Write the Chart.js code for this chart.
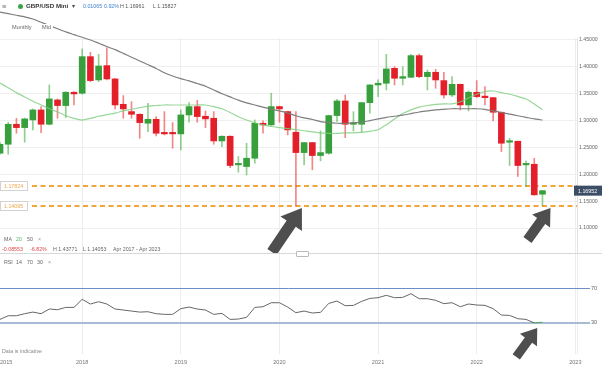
<!DOCTYPE html>
<html>
<head>
<meta charset="utf-8">
<script src="https://cdn.jsdelivr.net/npm/chart.js@4/dist/chart.umd.min.js"></script>
<style>
body { margin: 0; background: #fff; }
#wrap { position: relative; width: 602px; height: 366px; overflow: hidden; font-family: "Liberation Sans", Arial, sans-serif; }
canvas { position: absolute; left: 0; }
.t { position: absolute; white-space: nowrap; font-size: 5.3px; line-height: 1; color: #666; }
</style>
</head>
<body>
<div id="wrap">
  <canvas id="price" width="602" height="254" style="top:0"></canvas>
  <canvas id="rsi" width="602" height="112" style="top:254px"></canvas>

  <span class="t" style="left:2px;top:2.5px;font-size:7.5px;color:#777">≡</span>
  <span style="position:absolute;left:18px;top:3.5px;width:5px;height:5px;border-radius:50%;background:#3aa64a"></span>
  <span class="t" style="left:26px;top:3px;font-size:6.2px;font-weight:bold;color:#333">GBP/USD Mini</span>
  <span class="t" style="left:72px;top:3px;font-size:6px;color:#444">▾</span>
  <span class="t" style="left:83px;top:3.5px;color:#3d80d0">0.01065</span>
  <span class="t" style="left:104px;top:3.5px;color:#3d80d0">0.92%</span>
  <span class="t" style="left:120px;top:3.5px;color:#555">H 1.16961</span>
  <span class="t" style="left:153px;top:3.5px;color:#555">L 1.15827</span>

  <span class="t" style="left:10px;top:24px;font-size:5.6px;background:#fff;padding:1px 2px">Monthly</span>
  <span class="t" style="left:40px;top:24px;font-size:5.6px;background:#fff;padding:1px 2px">Mid</span>

  <span class="t" style="left:4px;top:236.5px">MA</span>
  <span class="t" style="left:16px;top:236.5px;color:#5ab55a">20</span>
  <span class="t" style="left:27px;top:236.5px">50</span>
  <span class="t" style="left:38px;top:236.5px;color:#999">×</span>

  <span class="t" style="left:2px;top:246.5px;color:#e04848">-0.08553</span>
  <span class="t" style="left:30px;top:246.5px;color:#e04848">-6.82%</span>
  <span class="t" style="left:53px;top:246.5px">H 1.43771</span>
  <span class="t" style="left:83px;top:246.5px">L 1.14053</span>
  <span class="t" style="left:113px;top:246.5px">Apr 2017 - Apr 2023</span>

  <div style="position:absolute;left:0;top:253px;width:602px;height:1px;background:#d8d8d8"></div>
  <div style="position:absolute;left:296px;top:251px;width:11px;height:4px;border:1px solid #bbb;border-radius:1px;background:#fff"></div>

  <span class="t" style="left:4px;top:259.5px">RSI</span>
  <span class="t" style="left:16px;top:259.5px">14</span>
  <span class="t" style="left:27px;top:259.5px">70</span>
  <span class="t" style="left:37px;top:259.5px">30</span>
  <span class="t" style="left:48px;top:259.5px;color:#999">×</span>

  <span class="t" style="left:2px;top:348.5px;color:#888">Data is indicative</span>
</div>

<script>
// monthly candles, first one is Mar 2017 (month index counted from Jan 2017)
var firstMonth = 2;
var opens = [1.2392, 1.2559, 1.2931, 1.2869, 1.3012, 1.3198, 1.2931, 1.3384, 1.3279, 1.3527,
  1.3508, 1.4190, 1.3756, 1.4023, 1.3775, 1.3303, 1.3167, 1.3117, 1.2950, 1.3024,
  1.2770, 1.2770, 1.2752, 1.3105, 1.3260, 1.3080, 1.3043, 1.2621, 1.2708, 1.2175,
  1.2144, 1.2299, 1.2950, 1.2919, 1.3260, 1.3167, 1.2783, 1.2404, 1.2590, 1.2349,
  1.2392, 1.3093, 1.3365, 1.2931, 1.2931, 1.3334, 1.3663, 1.3694, 1.3973, 1.3787,
  1.3806, 1.4209, 1.3818, 1.3899, 1.3744, 1.3477, 1.3675, 1.3291, 1.3527, 1.3446,
  1.3427, 1.3155, 1.2597, 1.2615, 1.2175, 1.2187, 1.1629];
var highs = [1.2597, 1.2969, 1.3043, 1.3045, 1.3217, 1.3260, 1.3663, 1.3403, 1.3539, 1.3539,
  1.4333, 1.4271, 1.4233, 1.4357, 1.3785, 1.3465, 1.3353, 1.3125, 1.3322, 1.3074,
  1.3167, 1.2962, 1.3198, 1.3334, 1.3378, 1.3179, 1.3167, 1.2715, 1.2715, 1.2330,
  1.2578, 1.3012, 1.2993, 1.3508, 1.3270, 1.3175, 1.3167, 1.2595, 1.2595, 1.2807,
  1.3100, 1.3396, 1.3477, 1.3167, 1.3340, 1.3670, 1.3756, 1.4233, 1.4004, 1.4004,
  1.4233, 1.4240, 1.3942, 1.3954, 1.3899, 1.3818, 1.3680, 1.3551, 1.3744, 1.3632,
  1.3430, 1.3160, 1.2671, 1.2617, 1.2249, 1.2299, 1.16961];
var lows = [1.2373, 1.2373, 1.2764, 1.2597, 1.2826, 1.2776, 1.2919, 1.3043, 1.3055, 1.3291,
  1.3490, 1.3725, 1.3725, 1.3756, 1.3217, 1.3043, 1.3043, 1.2671, 1.2795, 1.2714,
  1.2733, 1.2485, 1.2454, 1.2969, 1.2969, 1.2869, 1.2559, 1.2516, 1.2125, 1.2039,
  1.1989, 1.2206, 1.2764, 1.2910, 1.2969, 1.2733, 1.14095, 1.2175, 1.2082, 1.2249,
  1.2373, 1.2981, 1.2683, 1.2807, 1.2783, 1.3136, 1.3446, 1.3570, 1.3663, 1.3663,
  1.3800, 1.3799, 1.3570, 1.3601, 1.3415, 1.3446, 1.3198, 1.3179, 1.3427, 1.3291,
  1.2993, 1.2423, 1.2163, 1.1958, 1.1772, 1.1610, 1.1410];
var closes = [1.2559, 1.2931, 1.2869, 1.3031, 1.3198, 1.2931, 1.3403, 1.3279, 1.3527, 1.3496,
  1.4190, 1.3744, 1.4016, 1.3775, 1.3291, 1.3217, 1.3117, 1.2962, 1.3024, 1.2764,
  1.2752, 1.2752, 1.3105, 1.3260, 1.3074, 1.3031, 1.2621, 1.2708, 1.2163, 1.2181,
  1.2299, 1.2950, 1.2919, 1.3260, 1.3217, 1.2826, 1.2404, 1.2590, 1.2349, 1.2404,
  1.3093, 1.3365, 1.2931, 1.2956, 1.3334, 1.3663, 1.3694, 1.3961, 1.3787, 1.3818,
  1.4209, 1.3818, 1.3899, 1.3756, 1.3477, 1.3675, 1.3291, 1.3527, 1.3446, 1.3427,
  1.3155, 1.2578, 1.2615, 1.2163, 1.2194, 1.1617, 1.16952];

var ma20 = [1.370, 1.361, 1.352, 1.344, 1.336, 1.329, 1.322, 1.316, 1.309, 1.304,
  1.301, 1.304, 1.308, 1.311, 1.314, 1.318, 1.321, 1.324, 1.327, 1.328,
  1.329, 1.329, 1.329, 1.329, 1.329, 1.329, 1.326, 1.322, 1.315, 1.307,
  1.301, 1.296, 1.292, 1.289, 1.287, 1.285, 1.283, 1.281, 1.279, 1.277,
  1.276, 1.276, 1.277, 1.277, 1.278, 1.280, 1.283, 1.292, 1.303, 1.313,
  1.320, 1.325, 1.328, 1.330, 1.331, 1.331, 1.335, 1.342, 1.349, 1.354,
  1.355, 1.352, 1.349, 1.345, 1.340, 1.331, 1.320];
var ma50 = [1.502, 1.499, 1.496, 1.493, 1.489, 1.483, 1.477, 1.471, 1.465, 1.460,
  1.455, 1.450, 1.444, 1.438, 1.432, 1.425, 1.418, 1.411, 1.404, 1.397,
  1.389, 1.383, 1.378, 1.374, 1.369, 1.364, 1.357, 1.350, 1.344, 1.338,
  1.333, 1.329, 1.325, 1.321, 1.318, 1.314, 1.309, 1.305, 1.302, 1.298,
  1.296, 1.295, 1.295, 1.296, 1.297, 1.300, 1.303, 1.306, 1.308, 1.310,
  1.313, 1.316, 1.318, 1.320, 1.321, 1.322, 1.322, 1.322, 1.322, 1.321,
  1.318, 1.315, 1.312, 1.309, 1.306, 1.303, 1.301];
var rsi = [33.9, 38.2, 38.2, 40.6, 42.5, 40.6, 46.1, 45.3, 48.0, 48.0,
  57.5, 52.0, 54.7, 52.0, 46.1, 44.9, 43.7, 42.5, 42.9, 40.6,
  39.8, 39.8, 46.5, 48.4, 46.1, 44.9, 39.8, 41.0, 33.9, 34.3,
  36.3, 48.0, 48.8, 53.5, 53.5, 48.4, 41.8, 43.7, 41.4, 42.2,
  52.7, 55.5, 50.0, 50.4, 55.1, 58.6, 59.4, 62.2, 59.4, 59.8,
  64.1, 58.2, 58.2, 56.3, 52.4, 53.5, 48.8, 52.0, 50.8, 50.4,
  46.5, 39.0, 38.6, 34.7, 33.9, 29.8, 30.6];

var levels = [1.17824, 1.14095];
var priceTicks = [1.10, 1.15, 1.20, 1.25, 1.30, 1.35, 1.40, 1.45];
var rsiLevels = [30, 70];
var xMin = 2.0, xMax = 72.2;
var yearTicks = [xMin, 12, 24, 36, 48, 60, 72];
var yearLabels = ['2015', '2018', '2019', '2020', '2021', '2022', '2023'];

var family = '"Liberation Sans", Arial, sans-serif';
Chart.defaults.font.family = family;

var months = opens.map(function (o, i) { return firstMonth + i; });
var up = opens.map(function (o, i) { return closes[i] >= o; });
function pts(arr) { return arr.map(function (v, i) { return { x: months[i], y: v }; }); }

function xScale(showLabels) {
  // the labelled axis gets one blank tick at the right edge so that 'inner'
  // alignment only pushes the first label ("2015") to the left
  var ticks = showLabels ? yearTicks.concat([xMax]) : yearTicks;
  return {
    type: 'linear', min: xMin, max: xMax, offset: false,
    grid: { color: function (c) { return c.index === 0 ? 'rgba(0,0,0,0)' : '#ededed'; }, drawTicks: false, offset: false },
    border: { display: false },
    afterBuildTicks: function (s) { s.ticks = ticks.map(function (v) { return { value: v }; }); },
    afterFit: function (s) { s.height = showLabels ? 12 : 0; s.paddingLeft = 0; s.paddingRight = 0; },
    ticks: {
      display: showLabels, autoSkip: false, maxRotation: 0, align: 'inner', padding: 5,
      color: '#777', font: { size: 5.6 },
      callback: function (v, i) { return yearLabels[i] || ''; }
    }
  };
}

function drawArrow(ctx, tx, ty, bx, by, headL, headW, shaftW) {
  var ang = Math.atan2(ty - by, tx - bx), len = Math.hypot(tx - bx, ty - by);
  ctx.save();
  ctx.translate(bx, by);
  ctx.rotate(ang);
  ctx.beginPath();
  ctx.moveTo(0, -shaftW / 2);
  ctx.lineTo(len - headL, -shaftW / 2);
  ctx.lineTo(len - headL, -headW / 2);
  ctx.lineTo(len, 0);
  ctx.lineTo(len - headL, headW / 2);
  ctx.lineTo(len - headL, shaftW / 2);
  ctx.lineTo(0, shaftW / 2);
  ctx.closePath();
  ctx.fillStyle = '#4e4e4e';
  ctx.fill();
  ctx.restore();
}

var priceOverlay = {
  id: 'priceOverlay',
  beforeDatasetsDraw: function (chart) {
    var ctx = chart.ctx, area = chart.chartArea, y = chart.scales.y;
    ctx.save();
    ctx.strokeStyle = '#f2a63a';
    ctx.lineWidth = 1.8;
    ctx.setLineDash([5, 3.5]);
    levels.forEach(function (v) {
      var py = Math.round(y.getPixelForValue(v));
      ctx.beginPath(); ctx.moveTo(32, py); ctx.lineTo(area.right, py); ctx.stroke();
    });
    ctx.restore();
  },
  afterDraw: function (chart) {
    var ctx = chart.ctx, area = chart.chartArea, x = chart.scales.x, y = chart.scales.y;
    ctx.save();
    ctx.font = '5.3px ' + family;
    ctx.textBaseline = 'middle';
    ctx.textAlign = 'left';
    levels.forEach(function (v) {
      var py = Math.round(y.getPixelForValue(v));
      ctx.fillStyle = '#fff';
      ctx.fillRect(0.5, py - 4.5, 27, 9);
      ctx.strokeStyle = '#d2d2d2';
      ctx.lineWidth = 1;
      ctx.strokeRect(0.5, py - 4.5, 27, 9);
      ctx.fillStyle = '#eda64e';
      ctx.fillText(v.toFixed(5), 4, py + 0.5);
    });
    var last = closes[closes.length - 1];
    var ly = y.getPixelForValue(last);
    ctx.fillStyle = '#3c4d66';
    ctx.fillRect(area.right - 3, ly - 5, 29, 10);
    ctx.fillStyle = '#fff';
    ctx.fillText(last.toFixed(5), area.right + 1, ly + 0.5);

    // arrows pointing at the Mar 2020 low and the latest low
    var ax = x.getPixelForValue(38) + 6, ay = y.getPixelForValue(lows[36]) + 2;
    drawArrow(ctx, ax, ay, ax - 30, ay + 44, 19, 26, 11);
    var bx = x.getPixelForValue(months[months.length - 1]) + 8, by = y.getPixelForValue(lows[lows.length - 1]) + 2;
    drawArrow(ctx, bx, by, bx - 23, by + 32, 16, 22, 10);
    ctx.restore();
  }
};

var rsiOverlay = {
  id: 'rsiOverlay',
  afterDraw: function (chart) {
    var ctx = chart.ctx, x = chart.scales.x, y = chart.scales.y;
    var tx = x.getPixelForValue(67) + 3, ty = y.getPixelForValue(rsi[65]) + 5;
    drawArrow(ctx, tx, ty, tx - 21, ty + 29, 15, 21, 9);
  }
};

new Chart(document.getElementById('price'), {
  type: 'bar',
  data: {
    datasets: [
      {
        type: 'line', data: pts(ma50), borderColor: '#7e7e7e', borderWidth: 1.2,
        pointRadius: 0, tension: 0.2, order: 0,
        clip: { left: 0, top: false, right: 0, bottom: 0 }
      },
      {
        type: 'line', data: pts(ma20), borderColor: 'rgba(125,205,125,0.8)', borderWidth: 1.2,
        pointRadius: 0, tension: 0.2, order: 0
      },
      {
        data: months.map(function (m, i) { return { x: m, y: [opens[i], closes[i]] }; }),
        backgroundColor: up.map(function (u) { return u ? '#37a03c' : '#e3202a'; }),
        grouped: false, maxBarThickness: 6, barPercentage: 1, categoryPercentage: 1,
        minBarLength: 1.5, borderWidth: 0, order: 1
      },
      {
        data: months.map(function (m, i) { return { x: m, y: [lows[i], highs[i]] }; }),
        backgroundColor: up.map(function (u) { return u ? 'rgba(70,175,70,0.6)' : 'rgba(235,55,55,0.6)'; }),
        grouped: false, maxBarThickness: 1, barPercentage: 1, categoryPercentage: 1,
        borderWidth: 0, order: 2
      }
    ]
  },
  options: {
    responsive: false,
    animation: false,
    layout: { padding: { top: 38, left: 0, right: 0, bottom: 0 } },
    plugins: { legend: { display: false }, tooltip: { enabled: false } },
    scales: {
      x: xScale(false),
      y: {
        position: 'right', min: 1.0516, max: 1.4537,
        grid: { color: '#efefef', drawTicks: false },
        border: { display: true, color: '#e2e2e2' },
        afterBuildTicks: function (s) { s.ticks = priceTicks.map(function (v) { return { value: v }; }); },
        afterFit: function (s) { s.width = 25; s.paddingTop = 0; s.paddingBottom = 0; },
        ticks: { padding: 2, color: '#666', font: { size: 5.2 }, callback: function (v) { return v.toFixed(5); } }
      }
    }
  },
  plugins: [priceOverlay]
});

new Chart(document.getElementById('rsi'), {
  type: 'line',
  data: {
    datasets: [{
      data: pts(rsi), borderColor: '#666', borderWidth: 1, pointRadius: 0, tension: 0,
      segment: { borderColor: function (c) { return c.p0.parsed.y < 30 ? '#4caf50' : undefined; } }
    }]
  },
  options: {
    responsive: false,
    animation: false,
    layout: { padding: 0 },
    plugins: { legend: { display: false }, tooltip: { enabled: false } },
    scales: {
      x: xScale(true),
      y: {
        position: 'right', min: -6.8, max: 110.8,
        grid: {
          color: function (c) { return c.tick && c.tick.value === 30 ? '#a8bad4' : '#6a8fc4'; },
          lineWidth: function (c) { return c.tick && c.tick.value === 30 ? 2 : 1; },
          drawTicks: true, tickLength: 13
        },
        border: { display: false },
        afterBuildTicks: function (s) { s.ticks = rsiLevels.map(function (v) { return { value: v }; }); },
        afterFit: function (s) { s.width = 25; s.paddingTop = 0; s.paddingBottom = 0; },
        ticks: { padding: 1, color: '#666', font: { size: 5.6 } }
      }
    }
  },
  plugins: [rsiOverlay]
});
</script>
</body>
</html>
